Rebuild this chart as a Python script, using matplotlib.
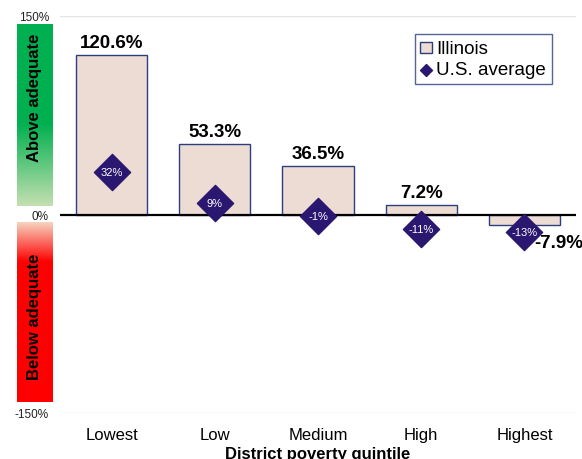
import numpy as np
import matplotlib.pyplot as plt
from matplotlib.colors import LinearSegmentedColormap

plt.rcParams['font.family'] = ['Liberation Sans', 'DejaVu Sans']

quintiles = ["Lowest", "Low", "Medium", "High", "Highest"]
illinois = [120.6, 53.3, 36.5, 7.2, -7.9]
us_avg = [32, 9, -1, -11, -13]
yticks = [-150, 0, 150]

fig = plt.figure(figsize=(5.82, 4.60), dpi=100)
ax = fig.add_axes([60 / 582, 46 / 460, 516 / 582, 397 / 460])

x = np.arange(len(quintiles))
bars = ax.bar(x, illinois, width=0.69, color="#eddcd3", edgecolor="#2b3f80",
              linewidth=1.0, zorder=2, label="Illinois")
pts = ax.scatter(x, us_avg, marker="D", s=340, color="#2a1770", zorder=4,
                 label="U.S. average")
for xi, v in zip(x, us_avg):
    ax.text(xi, v, f"{v}%", color="white", fontsize=8, ha="center",
            va="center", zorder=5)

for xi, v in zip(x, illinois):
    if v >= 0:
        ax.annotate(f"{v}%", (xi, v), xytext=(0, 3), textcoords="offset points",
                    ha="center", va="bottom", fontsize=13.5, fontweight="bold")
    else:
        # sits right of the marker, partly past the right edge as in the original
        ax.text(xi + 0.1, -21, f"{v}%", ha="left", va="center",
                fontsize=13.5, fontweight="bold", clip_on=False)

ax.axhline(0, color="black", linewidth=1.6, zorder=3)
for t in (-150, 150):
    ax.axhline(t, color="#e4e4e4", linewidth=1.0, zorder=1)

ax.set_xlim(-0.5, 4.5)
ax.set_ylim(-150, 150)
ax.set_yticks(yticks)
ax.set_yticklabels([f"{t}%" for t in yticks], fontsize=8.5, color="#222222")
ax.tick_params(axis="y", length=0, pad=8)
ax.tick_params(axis="x", length=0, pad=10)
ax.set_xticks(x)
ax.set_xticklabels(quintiles, fontsize=12)
ax.set_xlabel("District poverty quintile", fontsize=12, fontweight="bold",
              labelpad=3)
for s in ax.spines.values():
    s.set_visible(False)

leg = ax.legend([bars, pts], ["Illinois", "U.S. average"], loc="upper right",
                bbox_to_anchor=(0.953, 0.955), borderaxespad=0, fontsize=13.5,
                frameon=True, fancybox=False, handlelength=0.6,
                handletextpad=0.25, borderpad=0.3, labelspacing=0.25,
                markerscale=0.33)
leg.get_frame().set_edgecolor("#2b3f80")
leg.get_frame().set_linewidth(1.0)
for h in leg.legend_handles:
    if hasattr(h, "set_height"):
        h.set_height(8)
        h.set_width(8)

# gradient side bars
green = LinearSegmentedColormap.from_list(
    "g", [(0, "#00b050"), (0.55, "#00b050"), (1, "#c4e0b0")])
red = LinearSegmentedColormap.from_list(
    "r", [(0, "#f7d3bf"), (0.22, "#ff0000"), (1, "#ff0000")])
grad = np.linspace(0, 1, 256).reshape(-1, 1)

gax = fig.add_axes([17 / 582, (460 - 207) / 460, 36 / 582, 182 / 460])
gax.imshow(grad, aspect="auto", cmap=green)
gax.set_axis_off()
gax.text(0.5, 0.6, "Above adequate", transform=gax.transAxes, rotation=90,
         ha="center", va="center", fontsize=12, fontweight="bold")

rax = fig.add_axes([17 / 582, (460 - 403) / 460, 36 / 582, 180 / 460])
rax.imshow(grad, aspect="auto", cmap=red)
rax.set_axis_off()
rax.text(0.5, 0.48, "Below adequate", transform=rax.transAxes, rotation=90,
         ha="center", va="center", fontsize=12, fontweight="bold")

fig.savefig("out.png", dpi=100)
